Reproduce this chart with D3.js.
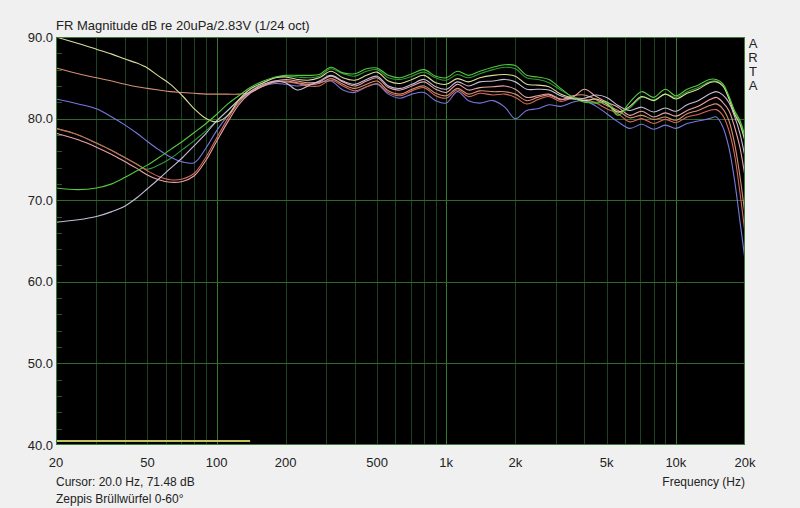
<!DOCTYPE html>
<html>
<head>
<meta charset="utf-8">
<script src="https://cdn.jsdelivr.net/npm/d3@7"></script>
<style>
  body { margin: 0; background: #f0f0f0; }
  svg { display: block; }
  text { font-family: "Liberation Sans", Arial, sans-serif; fill: #222; }
</style>
</head>
<body>
<div id="chart-area"></div>
<script>
// frequency points (Hz)
var freqs = [20,25,30,35,40,45,50,56,63,71,80,90,100,112,125,140,
  160,180,200,225,250,280,315,355,400,450,500,560,630,710,800,900,
  1000,1120,1250,1400,1600,1800,2000,2240,2500,2800,3150,3550,4000,4500,5000,5600,6300,7100,8000,9000,
  10000,11200,12500,14000,15000,16000,17000,18000,19000,20000];

// measured curves, dB
var greenDb = [71.5,71.3,71.5,72.0,72.8,73.6,74.3,75.2,76.2,77.2,78.3,79.4,80.5,81.8,82.8,83.8,
  84.6,85.1,85.3,85.3,85.3,85.4,86.3,85.6,85.5,86.1,86.2,85.3,85.0,85.5,86.0,85.2,
  85.0,85.8,85.3,85.8,86.3,86.6,86.5,85.3,85.1,84.8,83.7,82.6,82.0,81.9,81.9,80.4,82.0,83.3,82.6,83.6,
  82.8,83.6,84.1,84.8,84.8,84.3,82.8,81.0,79.8,77.8];
var darkGreenDb = [78.8,78.0,77.0,76.1,75.2,74.4,73.8,74.3,75.1,76.2,77.3,78.5,79.7,81.0,82.2,83.3,
  84.4,85.0,85.2,85.1,85.0,85.2,86.1,85.5,85.2,85.8,86.0,85.0,84.8,85.2,85.7,85.0,
  84.7,85.4,85.0,85.5,86.0,86.3,86.1,85.0,84.8,84.4,83.5,82.7,82.2,82.0,82.1,80.8,81.3,82.6,82.3,83.0,
  82.6,83.3,83.8,84.5,84.6,84.1,82.6,80.8,79.6,77.6];
var creamDb = [90.0,89.2,88.5,87.9,87.3,86.8,86.2,85.2,84.2,82.8,81.2,80.0,79.6,80.4,82.3,83.6,
  84.4,85.0,85.1,84.8,84.7,85.0,85.8,85.0,84.7,85.3,85.7,84.6,84.3,84.8,85.3,84.4,
  84.2,84.9,84.5,85.0,85.3,85.4,85.2,84.2,84.1,83.9,83.0,82.5,82.2,82.4,81.8,80.8,81.5,82.7,82.2,83.0,
  82.4,83.1,83.6,84.4,84.5,84.0,82.5,80.6,79.3,77.2];
var lavenderDb = [67.3,67.6,68.0,68.6,69.3,70.3,71.4,72.6,73.9,75.2,76.7,78.2,79.7,81.0,82.3,83.3,
  84.2,84.6,84.4,83.5,84.0,84.6,85.3,84.6,84.2,84.8,85.2,84.0,83.7,84.2,84.8,83.9,
  83.6,84.5,84.0,84.5,84.6,84.8,84.5,83.6,83.6,83.5,82.8,82.4,82.5,82.9,82.6,81.6,81.0,81.4,80.8,81.3,
  80.9,81.7,82.2,83.0,83.3,82.9,82.0,80.3,78.2,75.3];
var pinkDb = [78.2,77.4,76.5,75.6,74.7,73.9,73.1,72.5,72.2,72.3,73.0,74.9,77.2,79.6,81.7,83.1,
  84.0,84.6,84.8,84.6,84.4,84.5,85.2,84.5,84.0,84.6,85.0,83.8,83.5,84.0,84.5,83.6,
  83.2,84.2,83.5,83.8,83.9,84.0,83.6,82.6,82.8,83.0,82.4,82.6,83.6,82.7,82.0,81.4,80.4,80.9,80.2,80.7,
  80.3,81.0,81.5,82.3,82.6,82.0,81.0,79.0,76.5,72.9];
var salmonDb = [86.2,85.5,85.0,84.6,84.2,83.9,83.7,83.5,83.3,83.2,83.1,83.0,83.0,83.0,83.0,83.2,
  84.0,84.5,84.6,84.4,84.2,84.3,84.9,84.2,83.7,84.2,84.6,83.4,83.0,83.6,84.0,83.1,
  82.8,83.7,83.0,83.4,83.3,83.3,83.0,82.2,82.6,82.9,82.3,82.8,82.9,82.3,81.6,81.0,80.1,80.4,79.9,80.2,
  79.8,80.6,81.0,81.6,81.8,81.2,79.8,77.0,73.0,68.2];
var redDb = [78.8,78.0,77.0,76.1,75.2,74.4,73.6,72.9,72.5,72.6,73.3,75.3,77.6,80.0,82.0,83.3,
  84.1,84.5,84.5,84.3,84.0,84.0,84.7,84.0,83.4,83.9,84.3,83.2,82.8,83.4,83.8,82.8,
  82.5,83.5,82.7,83.1,82.9,83.0,82.6,81.8,82.3,82.7,82.1,82.5,82.4,81.9,81.2,80.6,79.6,80.0,79.4,79.9,
  79.5,80.2,80.5,81.0,81.1,80.4,78.6,75.6,71.0,66.0];
var blueDb = [82.4,81.8,81.2,80.2,79.2,78.2,77.2,76.2,75.3,74.7,74.6,76.4,78.5,80.4,82.0,83.2,
  84.0,84.3,84.2,84.0,84.2,84.4,84.6,83.5,83.2,83.9,84.2,83.0,82.5,83.0,83.2,82.2,
  81.9,83.3,82.2,81.9,82.2,81.4,80.0,81.0,81.2,81.7,81.5,82.0,82.2,81.5,80.6,79.6,78.8,79.3,78.7,79.2,
  78.8,79.4,79.7,80.0,80.2,79.0,76.5,72.5,67.5,62.7];

// axis ticks
var xTickValues = [20,50,100,200,500,1000,2000,5000,10000,20000];
var xTickLabels = ["20","50","100","200","500","1k","2k","5k","10k","20k"];
var xGridValues = [30,40,50,60,70,80,90,100,200,300,400,500,600,700,800,900,
  1000,2000,3000,4000,5000,6000,7000,8000,9000,10000];
var xMajorGrid = [100,1000,10000];
var yTickValues = [90,80,70,60,50,40];
var yMinorValues = [88,86,84,82,78,76,74,72,68,66,64,62,58,56,54,52,48,46,44,42];
var cursorRange = [20,140];
var cursorLevel = 40.5;

var chartWidth = 800, chartHeight = 508;
var plotLeft = 56, plotRight = 745, plotTop = 37, plotBottom = 445;

var x = d3.scaleLog().domain([20,20000]).range([plotLeft,plotRight]);
var y = d3.scaleLinear().domain([40,90]).range([plotBottom,plotTop]);

var svg = d3.select("#chart-area").append("svg")
  .attr("width", chartWidth)
  .attr("height", chartHeight);

// plot background
svg.append("rect")
  .attr("x", plotLeft).attr("y", plotTop)
  .attr("width", plotRight-plotLeft).attr("height", plotBottom-plotTop)
  .attr("fill", "black");

// vertical grid
svg.selectAll("line.vgrid").data(xGridValues).enter()
  .append("line")
    .attr("class","vgrid")
    .attr("x1", function(d){ return Math.round(x(d))+0.5; })
    .attr("x2", function(d){ return Math.round(x(d))+0.5; })
    .attr("y1", plotTop).attr("y2", plotBottom)
    .attr("stroke", function(d){ return xMajorGrid.indexOf(d) >= 0 ? "#357a2e" : "#1d4221"; })
    .attr("stroke-width", 1);

// horizontal grid
svg.selectAll("line.hgrid").data(yTickValues.slice(1,5)).enter()
  .append("line")
    .attr("class","hgrid")
    .attr("x1", plotLeft).attr("x2", plotRight)
    .attr("y1", function(d){ return Math.round(y(d))+0.5; })
    .attr("y2", function(d){ return Math.round(y(d))+0.5; })
    .attr("stroke", "#2f6a2c");

// minor ticks on left edge
svg.selectAll("line.minor").data(yMinorValues).enter()
  .append("line")
    .attr("class","minor")
    .attr("x1", plotLeft).attr("x2", plotLeft+6)
    .attr("y1", function(d){ return Math.round(y(d))+0.5; })
    .attr("y2", function(d){ return Math.round(y(d))+0.5; })
    .attr("stroke", "#344e34");

// cursor marker at the bottom
svg.append("line")
  .attr("x1", x(cursorRange[0])).attr("x2", x(cursorRange[1]))
  .attr("y1", y(cursorLevel)).attr("y2", y(cursorLevel))
  .attr("stroke", "#c2c45c").attr("stroke-width", 2);

// curves, back to front
var curves = [
  {values: darkGreenDb, color: "#2f9a36"},
  {values: blueDb, color: "#7878e0"},
  {values: redDb, color: "#d4685a"},
  {values: salmonDb, color: "#d49070"},
  {values: pinkDb, color: "#eca0a8"},
  {values: lavenderDb, color: "#c8bcd8"},
  {values: creamDb, color: "#dcdc98"},
  {values: greenDb, color: "#56c840"}
];

var line = d3.line()
  .x(function(d){ return x(d[0]); })
  .y(function(d){ return y(d[1]); })
  .curve(d3.curveCatmullRom.alpha(0.5));

svg.append("clipPath").attr("id","plotclip")
  .append("rect").attr("x", plotLeft).attr("y", plotTop-1)
  .attr("width", plotRight-plotLeft).attr("height", plotBottom-plotTop+1);

svg.append("g").attr("clip-path","url(#plotclip)")
  .selectAll("path").data(curves).enter()
  .append("path")
    .attr("d", function(c){ return line(freqs.map(function(f,i){ return [f, c.values[i]]; })); })
    .attr("fill","none")
    .attr("stroke", function(c){ return c.color; })
    .attr("stroke-width", 1.1);

// border
svg.append("rect")
  .attr("x", plotLeft+0.5).attr("y", plotTop+0.5)
  .attr("width", plotRight-plotLeft-1).attr("height", plotBottom-plotTop-1)
  .attr("fill","none")
  .attr("stroke", "#3e7a3a");

// y labels
svg.selectAll("text.ylab").data(yTickValues).enter()
  .append("text")
    .attr("class","ylab")
    .attr("x", plotLeft-3)
    .attr("y", function(d){ return y(d); })
    .attr("dy", "0.35em")
    .attr("text-anchor","end")
    .attr("font-size", 13)
    .text(function(d){ return d.toFixed(1); });

// x labels
svg.selectAll("text.xlab").data(xTickValues).enter()
  .append("text")
    .attr("class","xlab")
    .attr("x", function(d){ return x(d); })
    .attr("y", 467)
    .attr("text-anchor","middle")
    .attr("font-size", 13)
    .text(function(d,i){ return xTickLabels[i]; });

svg.append("text")
  .attr("x", plotLeft).attr("y", 30)
  .attr("font-size", 13)
  .text("FR Magnitude dB re 20uPa/2.83V (1/24 oct)");

svg.append("text")
  .attr("x", plotLeft).attr("y", 486)
  .attr("font-size", 12)
  .text("Cursor: 20.0 Hz, 71.48 dB");

svg.append("text")
  .attr("x", plotLeft).attr("y", 503)
  .attr("font-size", 12)
  .text("Zeppis Brüllwürfel 0-60°");

svg.append("text")
  .attr("x", plotRight).attr("y", 486)
  .attr("text-anchor","end")
  .attr("font-size", 12)
  .text("Frequency (Hz)");

// ARTA vertical label
svg.selectAll("text.arta").data(["A","R","T","A"]).enter()
  .append("text")
    .attr("class","arta")
    .attr("x", 753)
    .attr("y", function(d,i){ return 48 + i*14; })
    .attr("text-anchor","middle")
    .attr("font-size", 13)
    .text(function(d){ return d; });
</script>
</body>
</html>
